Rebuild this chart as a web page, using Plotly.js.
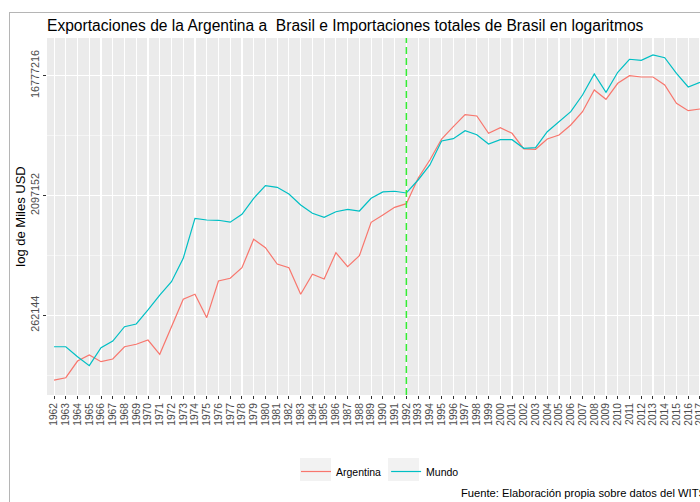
<!DOCTYPE html>
<html>
<head>
<meta charset="utf-8">
<script src="https://cdn.plot.ly/plotly-3.0.1.min.js"></script>
<style>
  html, body { margin: 0; padding: 0; overflow: hidden; background: #ffffff; }
  #wrap { position: relative; width: 700px; height: 502px; overflow: hidden; }
  #chart { position: absolute; left: 0; top: 0; width: 724px; height: 502px; }
  #frame { position: absolute; left: 9px; top: 12px; width: 800px; height: 600px;
           border-left: 1px solid #b5b5b5; border-top: 1px solid #b5b5b5; pointer-events: none; }
</style>
</head>
<body>
<div id="wrap">
  <div id="chart"></div>
  <div id="frame"></div>
</div>
<script>
// Years (categories)
const years = [1962,1963,1964,1965,1966,1967,1968,1969,1970,1971,1972,1973,1974,1975,1976,1977,1978,1979,1980,1981,
               1982,1983,1984,1985,1986,1987,1988,1989,1990,1991,1992,1993,1994,1995,1996,1997,1998,1999,2000,2001,
               2002,2003,2004,2005,2006,2007,2008,2009,2010,2011,2012,2013,2014,2015,2016,2017];

// Argentine exports to Brazil (miles USD)
const argentina = [85200,88700,118500,131500,117200,122700,151900,158600,170700,133200,
                   215000,346000,377500,251500,475500,498000,598700,980500,847700,638700,
                   598700,377500,534200,492300,776700,609000,737300,1317000,1495300,1708400,
                   1819500,2827000,3884000,5592000,6924000,8530000,8338000,6175000,6805000,6175000,
                   4703000,4677000,5592000,5994000,7133000,8984000,13093000,11140000,14708000,16777000,
                   16408000,16408000,14276000,10394000,9143000,9416000];

// Total imports of Brazil (miles USD)
const mundo = [151900,151900,127700,109300,149300,167700,215000,225400,287400,372800,
               469500,704800,1411700,1370600,1364000,1319000,1513000,1997600,2485500,2418000,
               2153000,1778000,1539400,1436600,1582600,1650300,1602600,1997600,2229700,2257000,
               2191000,2744600,3561500,5402000,5620000,6459000,6027000,5129000,5524000,5524000,
               4760000,4808000,6350000,7550000,8984000,12004000,17281000,12583000,17800000,22314000,
               21928000,24042000,22934000,17482000,13791000,14965000];

const seriesNames = ["Argentina", "Mundo"];
const yTickVals = [262144, 2097152, 16777216];
const yTickText = ["262144", "2097152", "16777216"];
const yMinorVals = [92682, 741455, 5931642];
const breakYear = 1992;

const W = 724, H = 502, L = 47, R = 17, T = 38, B = 107;
const pw = W - L - R, ph = H - T - B;
const px2paperX = p => (p - L) / pw;
const px2paperY = p => (H - B - p) / ph;

const traces = [
  { x: years, y: argentina, name: seriesNames[0], type: "scatter", mode: "lines",
    line: { color: "#F8766D", width: 1.2 } },
  { x: years, y: mundo, name: seriesNames[1], type: "scatter", mode: "lines",
    line: { color: "#00BFC4", width: 1.2 } }
];

const keyBox = (x0, x1) => ({
  type: "rect", xref: "paper", yref: "paper", layer: "below",
  x0: px2paperX(x0), x1: px2paperX(x1), y0: px2paperY(481), y1: px2paperY(458),
  fillcolor: "#F2F2F2", line: { width: 0 }
});

const layout = {
  width: W, height: H,
  margin: { l: L, r: R, t: T, b: B, pad: 0 },
  paper_bgcolor: "#ffffff",
  plot_bgcolor: "#EBEBEB",
  font: { family: "Liberation Sans, Arial, sans-serif", color: "#000000" },
  title: {
    text: "Exportaciones de la Argentina a  Brasil e Importaciones totales de Brasil en logaritmos",
    font: { size: 15.6, color: "#000000", family: "Liberation Sans, Arial, sans-serif" },
    x: 0, xref: "paper", xanchor: "left",
    y: 1 - 26 / H, yref: "container", yanchor: "middle"
  },
  xaxis: {
    type: "linear",
    range: [years[0] - 0.6, years[years.length - 1] + 0.6],
    tickmode: "array", tickvals: years, ticktext: years.map(String),
    tickangle: -90,
    tickfont: { size: 10.2, color: "#4D4D4D" },
    ticks: "outside", ticklen: 3, tickwidth: 1, tickcolor: "#333333",
    showgrid: true, gridcolor: "#ffffff", gridwidth: 1.1,
    zeroline: false, showline: false, fixedrange: true
  },
  yaxis: {
    type: "log",
    range: [16.004 * Math.log10(2), 24.944 * Math.log10(2)],
    tickmode: "array", tickvals: yTickVals, ticktext: yTickText,
    tickangle: -90,
    tickfont: { size: 10.8, color: "#4D4D4D" },
    ticks: "outside", ticklen: 3, tickwidth: 1, tickcolor: "#333333",
    showgrid: true, gridcolor: "#ffffff", gridwidth: 1.1,
    minor: { tickmode: "array", tickvals: yMinorVals, showgrid: true, gridcolor: "#ffffff", gridwidth: 0.5, ticks: "" },
    zeroline: false, showline: false,
    title: { text: "log de Miles USD", font: { size: 13, color: "#000000" }, standoff: 0 }
  },
  showlegend: true,
  legend: {
    orientation: "h",
    x: px2paperX(380), xanchor: "center",
    y: px2paperY(457), yanchor: "top",
    font: { size: 10.5, color: "#000000" },
    bgcolor: "rgba(0,0,0,0)",
    itemwidth: 30,
    traceorder: "normal"
  },
  shapes: [
    { type: "line", xref: "x", yref: "paper", x0: breakYear, x1: breakYear, y0: 0, y1: 1,
      line: { color: "#33EE33", width: 1.5, dash: "7px,4px" } },
    keyBox(300, 331),
    keyBox(388, 419)
  ],
  annotations: [
    { text: "Fuente: Elaboración propia sobre datos del WITS", xref: "paper", yref: "paper",
      x: px2paperX(708), xanchor: "right", y: px2paperY(493), yanchor: "middle",
      showarrow: false, font: { size: 11.2, color: "#000000" } }
  ]
};

Plotly.newPlot("chart", traces, layout, { displayModeBar: false, staticPlot: true });
</script>
</body>
</html>
